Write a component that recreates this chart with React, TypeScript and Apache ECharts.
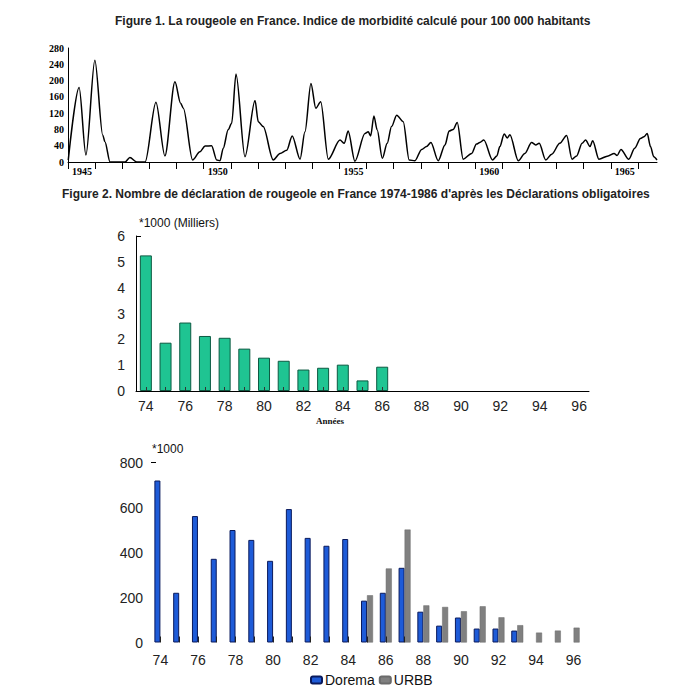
import React, { useEffect, useRef } from "react";
import * as echarts from "echarts";

// Figure 1: morbidity index per 100 000 inhabitants (feature points)
const fig1Years = [
  1945.01, 1945.41, 1945.66, 1945.99, 1946.28, 1946.36, 1946.55, 1947.10, 1947.28, 1947.53,
  1947.84, 1948.24, 1948.57, 1948.94, 1949.15, 1949.25, 1949.59, 1949.86, 1950.05, 1950.29,
  1950.48, 1950.60, 1950.72, 1950.90, 1951.03, 1951.19, 1951.52, 1951.89, 1952.01, 1952.19,
  1952.56, 1952.81, 1953.06, 1953.26, 1953.55, 1953.73, 1953.95, 1954.13, 1954.31, 1954.59,
  1955.02, 1955.18, 1955.32, 1955.57, 1955.94, 1956.06, 1956.15, 1956.27, 1956.39, 1956.58,
  1956.76, 1956.92, 1957.11, 1957.35, 1957.57, 1957.78, 1958.03, 1958.21, 1958.37, 1958.64,
  1958.89, 1959.04, 1959.19, 1959.34, 1959.56, 1959.87, 1960.05, 1960.17, 1960.32, 1960.64,
  1960.80, 1960.91, 1961.07, 1961.18, 1961.28, 1961.59, 1961.83, 1962.08, 1962.23, 1962.36,
  1962.60, 1962.82, 1963.12, 1963.37, 1963.57, 1963.74, 1963.94, 1964.07, 1964.23, 1964.33,
  1964.56, 1964.90, 1965.12, 1965.23, 1965.37, 1965.66, 1965.88, 1966.09, 1966.22, 1966.34,
  1966.46, 1966.58, 1966.70,
];
const fig1Values = [
  5, 183, 17, 250, 66, 50, 0, 0, 11, 0,
  0, 147, 15, 197, 144, 132, 5, 25, 39, 40,
  5, 3, 34, 79, 95, 216, 13, 151, 99, 87,
  5, 21, 29, 64, 7, 74, 193, 132, 148, 7,
  54, 46, 76, 2, 70, 74, 64, 113, 79, 9,
  46, 87, 115, 99, 5, 3, 31, 38, 48, 3,
  42, 76, 80, 97, 7, 21, 44, 48, 54, 5,
  15, 38, 69, 59, 67, 3, 21, 48, 42, 46,
  5, 19, 46, 65, 7, 15, 46, 54, 38, 52,
  7, 15, 21, 16, 31, 7, 34, 58, 62, 70,
  38, 13, 5,
];

// Figure 2 & 3 categories (years 1974-1996)
const yearCategories = [
  "74", "75", "76", "77", "78", "79", "80", "81", "82", "83", "84", "85",
  "86", "87", "88", "89", "90", "91", "92", "93", "94", "95", "96",
];
// Figure 2: declarations (*1000)
const fig2Values = [
  5.25, 1.87, 2.65, 2.13, 2.06, 1.64, 1.29, 1.17, 0.83, 0.9, 1.02, 0.41, 0.94,
  null, null, null, null, null, null, null, null, null, null,
];
// Figure 3: Dorema and URBB (*1000)
const fig3Dorema = [
  720, 221, 562, 372, 500, 456, 363, 593, 465, 430, 460, 186, 221, 332,
  137, 75, 111, 62, 62, 53, null, null, null,
];
const fig3Urbb = [
  null, null, null, null, null, null, null, null, null, null, null,
  210, 329, 502, 165, 158, 139, 161, 112, 77, 44, 53, 66,
];

const sans = '"Liberation Sans", Arial, sans-serif';
const serif = '"Liberation Serif", "Times New Roman", serif';

export default function App() {
  const ref = useRef<HTMLDivElement>(null);

  useEffect(() => {
    const chart = echarts.init(ref.current!, null, { renderer: "svg" });
    chart.setOption({
      animation: false,
      backgroundColor: "#ffffff",
      title: [
        {
          text: "Figure 1. La rougeole en France. Indice de morbidité calculé pour 100 000 habitants",
          left: 115, top: 15, padding: 0,
          textStyle: { fontFamily: sans, fontSize: 12, fontWeight: "bold", color: "#222" },
        },
        {
          text: "Figure 2. Nombre de déclaration de rougeole en France 1974-1986 d'après les Déclarations obligatoires",
          left: 62, top: 188, padding: 0,
          textStyle: { fontFamily: sans, fontSize: 12, fontWeight: "bold", color: "#222" },
        },
        {
          text: "*1000 (Milliers)",
          left: 139, top: 217, padding: 0,
          textStyle: { fontFamily: sans, fontSize: 12, fontWeight: "normal", color: "#111" },
        },
        {
          text: "Années",
          left: 316, top: 416, padding: 0,
          textStyle: { fontFamily: serif, fontSize: 9, fontWeight: "bold", color: "#111" },
        },
        {
          text: "*1000",
          left: 152, top: 443, padding: 0,
          textStyle: { fontFamily: sans, fontSize: 12, fontWeight: "normal", color: "#111" },
        },
      ],
      grid: [
        { left: 68, top: 48, width: 589, height: 114 },
        { left: 136, top: 236, width: 453, height: 155 },
        { left: 151, top: 462.5, width: 432, height: 180 },
      ],
      xAxis: [
        {
          gridIndex: 0, type: "value", min: 1945, max: 1966.7, interval: 1,
          axisLine: { show: true, lineStyle: { color: "#000", width: 1 } },
          axisTick: { show: true, length: 7, lineStyle: { color: "#000" } },
          splitLine: { show: false },
          axisLabel: {
            formatter: (v: number) => (Math.round(v) % 5 === 0 ? String(Math.round(v)) : ""),
            fontFamily: serif, fontWeight: "bold", fontSize: 10, color: "#000",
            align: "left", padding: [0, 0, 0, 4], margin: 4, showMaxLabel: false,
          },
        },
        {
          gridIndex: 1, type: "category", data: yearCategories, z: 5,
          axisLine: { show: true, lineStyle: { color: "#000", width: 1 } },
          axisTick: {
            show: true, inside: true, alignWithLabel: true, length: 4,
            interval: (i: number) => i <= 12, lineStyle: { color: "#333" },
          },
          axisLabel: { interval: 1, fontFamily: sans, fontSize: 14, color: "#222", margin: 8 },
        },
        {
          gridIndex: 2, type: "category", data: yearCategories, z: 5,
          axisLine: { show: false },
          axisTick: {
            show: true, inside: true, alignWithLabel: true, length: 6,
            interval: (i: number) => i <= 13, lineStyle: { color: "#222" },
          },
          axisLabel: { interval: 1, fontFamily: sans, fontSize: 14, color: "#222", margin: 10 },
        },
      ],
      yAxis: [
        {
          gridIndex: 0, type: "value", min: 0, max: 280, interval: 40,
          axisLine: { show: true, lineStyle: { color: "#000", width: 1 } },
          axisTick: { show: false },
          splitLine: { show: false },
          axisLabel: { fontFamily: serif, fontWeight: "bold", fontSize: 10, color: "#000", margin: 4 },
        },
        {
          gridIndex: 1, type: "value", min: 0, max: 6, interval: 1,
          axisLine: { show: true, lineStyle: { color: "#000", width: 1 } },
          axisTick: { show: true, inside: true, length: 5, customValues: [6], lineStyle: { color: "#000" } },
          splitLine: { show: false },
          axisLabel: { fontFamily: sans, fontSize: 14, color: "#222", margin: 11 },
        },
        {
          gridIndex: 2, type: "value", min: 0, max: 800, interval: 200,
          axisLine: { show: false },
          axisTick: { show: true, inside: true, length: 5, customValues: [800], lineStyle: { color: "#000" } },
          splitLine: { show: false },
          axisLabel: { fontFamily: sans, fontSize: 14, color: "#222", margin: 8 },
        },
      ],
      legend: {
        data: ["Dorema", "URBB"],
        left: 310, top: 673, padding: 0,
        itemWidth: 11, itemHeight: 7, itemGap: 4,
        textStyle: { fontFamily: sans, fontSize: 14, color: "#111", padding: [0, 0, 0, -2] },
      },
      series: [
        {
          name: "Morbidité",
          type: "line",
          xAxisIndex: 0, yAxisIndex: 0,
          data: fig1Years.map((y, i) => [y, fig1Values[i]]),
          symbol: "none",
          smooth: 0.3,
          smoothMonotone: "x",
          lineStyle: { color: "#000", width: 1.5 },
        },
        {
          name: "Déclarations",
          type: "bar",
          xAxisIndex: 1, yAxisIndex: 1,
          data: fig2Values,
          barWidth: 12,
          itemStyle: { color: "#1FC492", borderColor: "#0C5A42", borderWidth: 1 },
        },
        {
          name: "Dorema",
          type: "bar",
          xAxisIndex: 2, yAxisIndex: 2,
          data: fig3Dorema,
          barWidth: 6, barGap: "0%",
          itemStyle: { color: "#1E5BD8", borderColor: "#0A1A5C", borderWidth: 1 },
        },
        {
          name: "URBB",
          type: "bar",
          xAxisIndex: 2, yAxisIndex: 2,
          data: fig3Urbb,
          barWidth: 6, barGap: "0%",
          itemStyle: { color: "#808080", borderColor: "#6a6a6a", borderWidth: 0.5 },
        },
      ],
    });
    return () => chart.dispose();
  }, []);

  return (
    <div
      ref={ref}
      style={{ position: "fixed", left: 0, top: 0, width: 683, height: 696, background: "#fff" }}
    />
  );
}
